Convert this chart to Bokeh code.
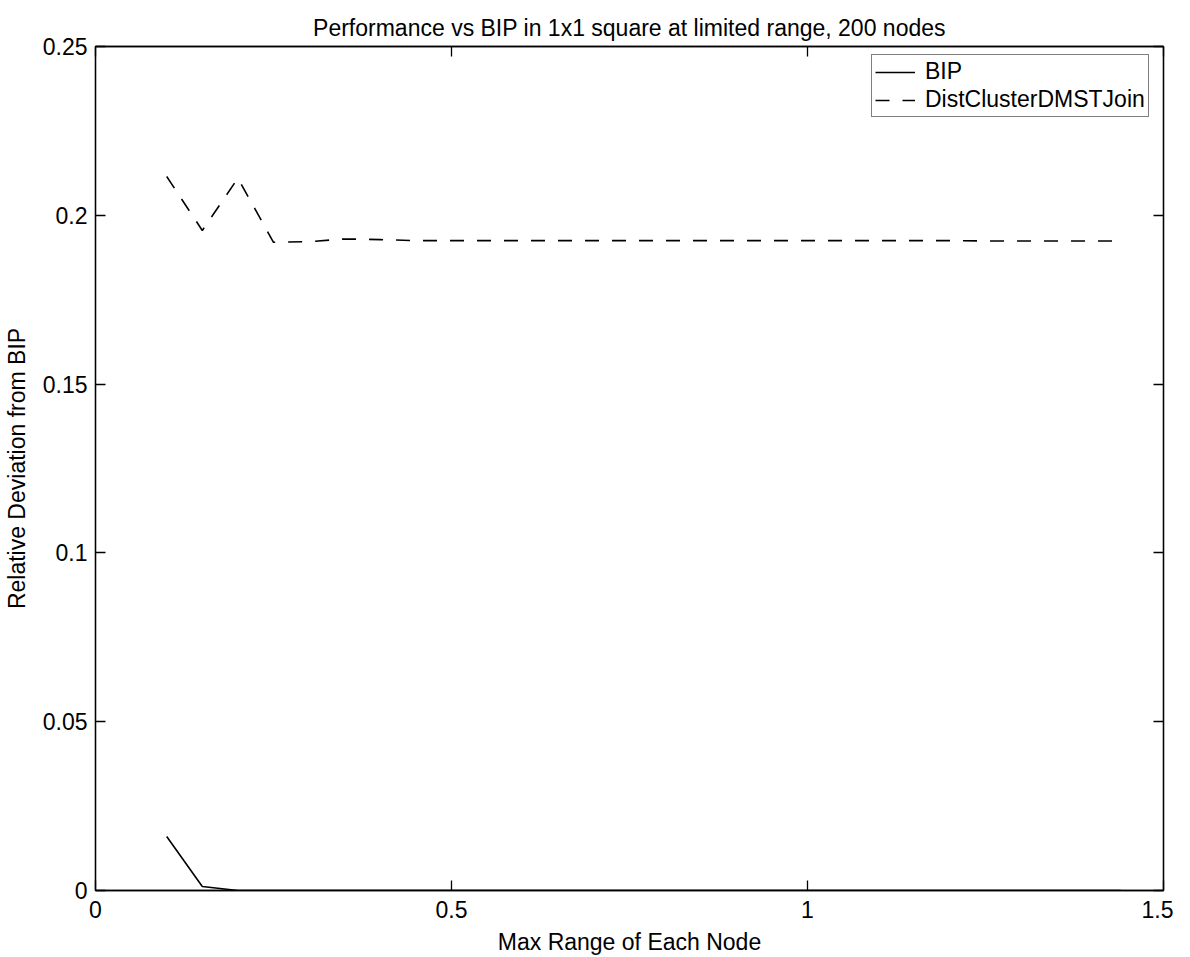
from bokeh.plotting import figure
from bokeh.models import Range1d, LinearAxis, FixedTicker, Legend, LegendItem
from bokeh.embed import file_html
from bokeh.resources import INLINE

# Data
x_range_vals = [0.10, 0.15, 0.20, 0.25, 0.30, 0.35, 0.40, 0.45, 0.50, 0.55, 0.60, 0.65,
                0.70, 0.75, 0.80, 0.85, 0.90, 0.95, 1.00, 1.05, 1.10, 1.15, 1.20,
                1.25, 1.30, 1.35, 1.40, 1.44]
bip_vals = [0.016, 0.0012, 0.0, 0.0, 0.0, 0.0, 0.0, 0.0, 0.0, 0.0, 0.0, 0.0,
            0.0, 0.0, 0.0, 0.0, 0.0, 0.0, 0.0, 0.0, 0.0, 0.0, 0.0,
            0.0, 0.0, 0.0, 0.0, 0.0]
dcdj_vals = [0.2115, 0.1955, 0.2110, 0.1920, 0.1922, 0.1930, 0.1928, 0.1925, 0.1925, 0.1925,
             0.1925, 0.1925, 0.1925, 0.1925, 0.1925, 0.1925, 0.1925, 0.1925, 0.1925,
             0.1925, 0.1925, 0.1925, 0.1925, 0.1924, 0.1924, 0.1924, 0.1924, 0.1924]
x_ticks = [0, 0.5, 1, 1.5]
x_tick_labels = {0: "0", 0.5: "0.5", 1: "1", 1.5: "1.5"}
y_ticks = [0, 0.05, 0.1, 0.15, 0.2, 0.25]
y_tick_labels = {0: "0", 0.05: "0.05", 0.1: "0.1", 0.15: "0.15", 0.2: "0.2", 0.25: "0.25"}

FONT = "Liberation Sans"
FS = "23px"

p = figure(frame_width=1068, frame_height=844, output_backend="svg", toolbar_location=None,
           x_range=Range1d(0, 1.5), y_range=Range1d(0, 0.25),
           min_border_left=95, min_border_right=10, min_border_top=46, min_border_bottom=60)
p.title.text = "Performance vs BIP in 1x1 square at limited range, 200 nodes"
p.title.align = "center"
p.title.vertical_align = "middle"
p.title.text_font = FONT
p.title.text_font_size = FS
p.title.text_font_style = "normal"
p.title.text_color = "black"
p.title.offset = 0
p.title.standoff = 10

p.xgrid.visible = False
p.ygrid.visible = False
p.outline_line_color = "black"
p.outline_line_width = 1.3

def style_axis(ax, ticks, labels, show_labels=True):
    ax.ticker = FixedTicker(ticks=ticks)
    ax.major_label_overrides = labels
    ax.major_tick_in = 10
    ax.major_tick_out = 0
    ax.minor_tick_line_color = None
    ax.axis_line_color = "black"
    ax.axis_line_width = 1.3
    ax.major_tick_line_width = 1.3
    ax.major_tick_line_color = "black"
    ax.major_label_text_font = FONT
    ax.major_label_text_font_size = FS
    ax.major_label_text_color = "black"
    ax.axis_label_text_font = FONT
    ax.axis_label_text_font_size = FS
    ax.axis_label_text_font_style = "normal"
    ax.axis_label_text_color = "black"
    if not show_labels:
        ax.major_label_text_font_size = "0px"
        ax.major_label_standoff = 0

style_axis(p.xaxis[0], x_ticks, x_tick_labels)
style_axis(p.yaxis[0], y_ticks, y_tick_labels)
p.xaxis[0].axis_label = "Max Range of Each Node"
p.yaxis[0].axis_label = "Relative Deviation from BIP"
p.xaxis[0].major_label_standoff = 10
p.yaxis[0].major_label_standoff = 8
p.xaxis[0].axis_label_standoff = 8
p.yaxis[0].axis_label_standoff = 10

top = LinearAxis()
right = LinearAxis()
style_axis(top, x_ticks, x_tick_labels, show_labels=False)
style_axis(right, y_ticks, y_tick_labels, show_labels=False)
p.add_layout(top, "above")
p.add_layout(right, "right")

r1 = p.line(x_range_vals, bip_vals, line_color="black", line_width=1.6)
r2 = p.line(x_range_vals, dcdj_vals, line_color="black", line_width=1.6, line_dash="14 13")

legend = Legend(items=[LegendItem(label="BIP", renderers=[r1]),
                       LegendItem(label="DistClusterDMSTJoin", renderers=[r2])],
                location=(776, 773))
legend.label_text_font = FONT
legend.label_text_font_size = FS
legend.label_text_color = "black"
legend.border_line_color = "black"
legend.border_line_width = 1.2
legend.glyph_width = 40
legend.label_standoff = 10
legend.spacing = 1
legend.padding = 3
legend.margin = 0
legend.label_height = 24
legend.glyph_height = 24
p.add_layout(legend, "center")

open("out.html", "w").write(file_html(p, INLINE))
